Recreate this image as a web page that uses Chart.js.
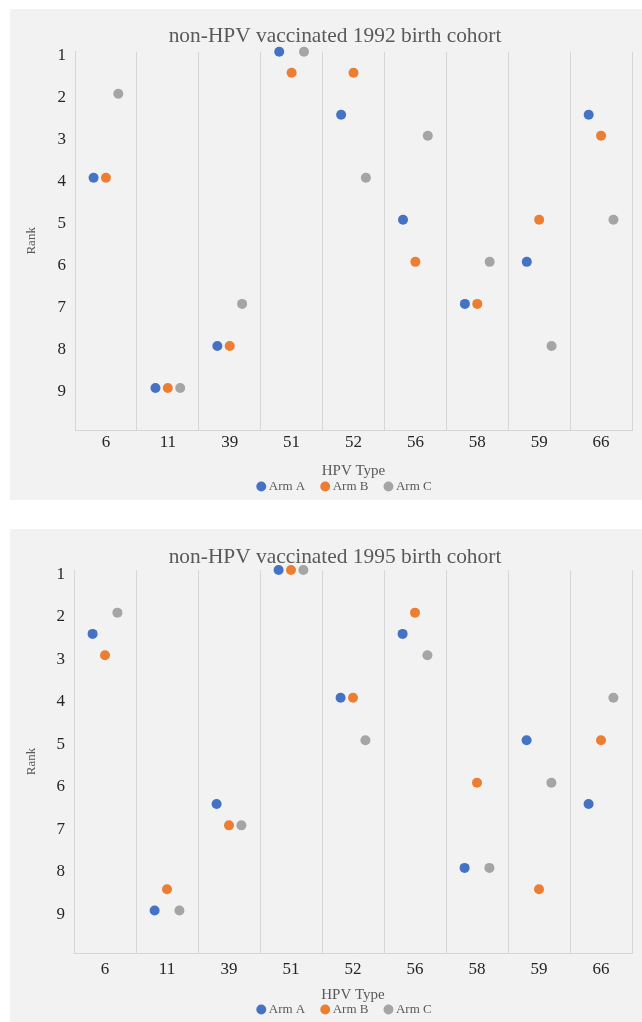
<!DOCTYPE html>
<html><head><meta charset="utf-8">
<script src="https://cdn.jsdelivr.net/npm/chart.js@4.4.1/dist/chart.umd.min.js"></script>
<style>
html,body{margin:0;padding:0;background:#fff;width:642px;height:1022px;overflow:hidden}
.panel{position:absolute;left:10px;width:632px;background:#f2f2f2}
#p1{top:9px;height:491px}
#p2{top:529px;height:493px}
canvas{position:absolute;left:0;top:0}
</style></head><body>
<div class="panel" id="p1"><canvas id="c1" width="632" height="494"></canvas></div>
<div class="panel" id="p2"><canvas id="c2" width="632" height="497"></canvas></div>
<script>
// ---- data ----
const HPV_TYPES = ['6', '11', '39', '51', '52', '56', '58', '59', '66'];
const RANK_TICKS = [1, 2, 3, 4, 5, 6, 7, 8, 9];
const SERIES_NAMES = ['Arm A', 'Arm B', 'Arm C'];

const ARM_A_1992 = [4, 9, 8, 1, 2.5, 5, 7, 6, 2.5];
const ARM_B_1992 = [4, 9, 8, 1.5, 1.5, 6, 7, 5, 3];
const ARM_C_1992 = [2, 9, 7, 1, 4, 3, 6, 8, 5];

const ARM_A_1995 = [2.5, 9, 6.5, 1, 4, 2.5, 8, 5, 6.5];
const ARM_B_1995 = [3, 8.5, 7, 1, 4, 2, 6, 8.5, 5];
const ARM_C_1995 = [2, 9, 7, 1, 5, 3, 8, 6, 4];

const TITLE_1992 = 'non-HPV vaccinated 1992 birth cohort';
const TITLE_1995 = 'non-HPV vaccinated 1995 birth cohort';

// ---- style ----
const COLORS = ['#4472C4', '#ED7D31', '#A5A5A5'];
const DOT_SPREAD = 0.2;
const FONT = "'Liberation Serif', 'Times New Roman', serif";
const GRID = '#d6d6d6';

// shifts the (library-drawn) legend block horizontally
const legendShift = {
  id: 'legendShift',
  afterLayout(chart, args, opts) {
    const lg = chart.legend;
    if (lg && opts.dx) { lg.left += 2 * opts.dx; }
  }
};

function makeChart(id, title, series, lay) {
  const datasets = series.map((vals, s) => ({
    label: SERIES_NAMES[s],
    data: vals.map((v, i) => ({ x: i + (s - 1) * DOT_SPREAD, y: v })),
    backgroundColor: COLORS[s],
    borderColor: COLORS[s],
    borderWidth: 0,
    pointBorderWidth: 0,
    pointRadius: 5,
    pointHoverRadius: 5,
    pointStyle: 'circle',
    showLine: false,
    clip: false
  }));
  return new Chart(document.getElementById(id), {
    type: 'scatter',
    data: { datasets },
    plugins: [legendShift],
    options: {
      responsive: false,
      animation: false,
      devicePixelRatio: 1,
      layout: { padding: { left: 28, right: 10, top: 0, bottom: 0 } },
      plugins: {
        legendShift: { dx: 11 },
        title: {
          display: true, text: title, color: '#595959',
          font: { family: FONT, size: 21.4, weight: 'normal' },
          padding: { top: lay.titleTop, bottom: lay.titleBottom }
        },
        legend: {
          position: 'bottom',
          labels: {
            usePointStyle: true, pointStyle: 'circle', boxHeight: 7, boxWidth: 2,
            color: '#595959', font: { family: FONT, size: 13 }, padding: 19
          }
        },
        tooltip: { enabled: false }
      },
      scales: {
        x: {
          type: 'linear', min: -0.5, max: HPV_TYPES.length - 0.5,
          afterBuildTicks: (sc) => {
            const t = [];
            for (let v = -0.5; v <= HPV_TYPES.length - 0.5 + 1e-9; v += 0.5) t.push({ value: v });
            sc.ticks = t;
          },
          grid: {
            color: (c) => (c.tick && Number.isInteger(c.tick.value)) ? 'rgba(0,0,0,0)' : GRID,
            drawTicks: false, lineWidth: 1
          },
          border: { display: true, color: GRID },
          ticks: {
            autoSkip: false, maxRotation: 0, minRotation: 0, padding: lay.xTickPad,
            color: '#262626', font: { family: FONT, size: 17 },
            callback: (v) => Number.isInteger(v) ? HPV_TYPES[v] : ''
          },
          title: {
            display: true, text: 'HPV Type', color: '#595959',
            font: { family: FONT, size: 15 }, padding: { top: 0, bottom: lay.xTitleBottom }
          },
          afterFit: (sc) => { sc.height = lay.xHeight; }
        },
        y: {
          type: 'linear', reverse: true, min: 1, max: 10,
          afterBuildTicks: (sc) => {
            sc.ticks = RANK_TICKS.concat([10]).map((v) => ({ value: v }));
          },
          grid: { display: false, drawTicks: false },
          border: { display: true, color: GRID },
          ticks: {
            padding: 9, labelOffset: 4, color: '#262626',
            font: { family: FONT, size: 17 },
            callback: (v) => RANK_TICKS.includes(v) ? String(v) : ''
          },
          title: {
            display: true, text: 'Rank', color: '#595959',
            font: { family: FONT, size: 13 }, padding: { top: -14.5, bottom: 0 }
          },
          afterFit: (sc) => { sc.width = lay.yWidth; }
        }
      }
    }
  });
}

makeChart('c1', TITLE_1992, [ARM_A_1992, ARM_B_1992, ARM_C_1992],
  { titleTop: 14.4, titleBottom: 2.6, xTickPad: 2.5, xTitleBottom: -19, xHeight: 31, yWidth: 37 });
makeChart('c2', TITLE_1995, [ARM_A_1995, ARM_B_1995, ARM_C_1995],
  { titleTop: 15.3, titleBottom: 0.1, xTickPad: 6.3, xTitleBottom: -20, xHeight: 31, yWidth: 36 });
</script>
</body></html>
